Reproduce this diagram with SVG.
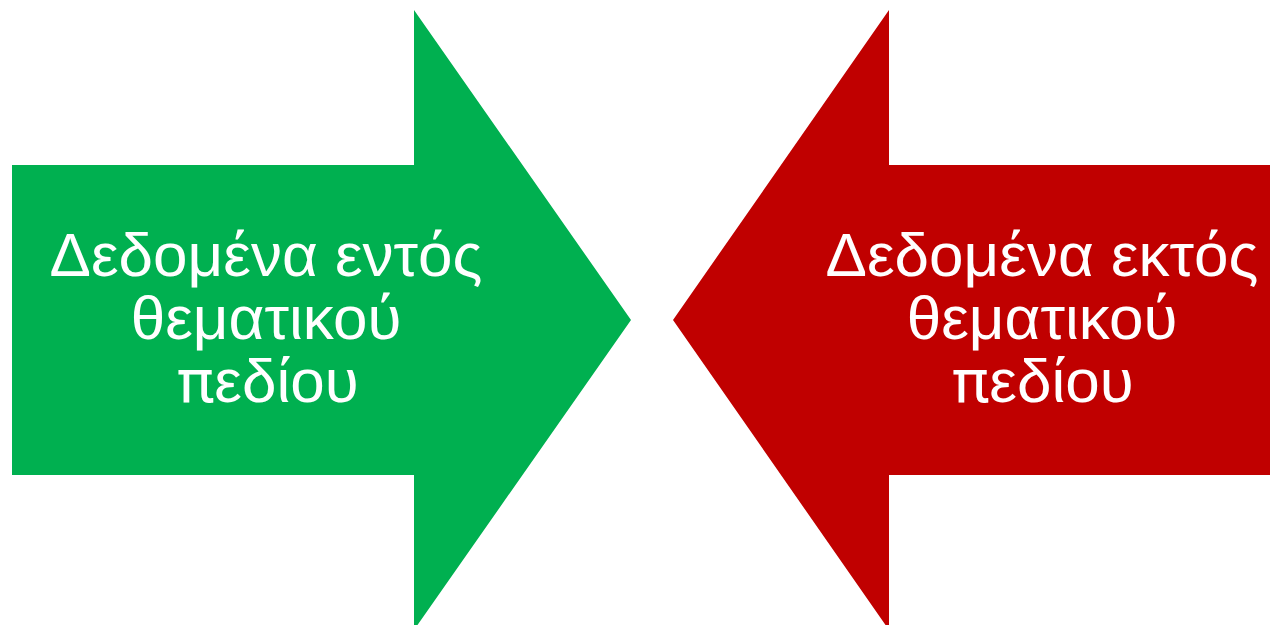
<svg xmlns="http://www.w3.org/2000/svg" width="1270" height="625" viewBox="0 0 1270 625">
  <style>
    .lbl { font-family: "Liberation Sans", Arial, sans-serif; font-size: 62px; fill: #FFFFFF; text-anchor: middle; }
    .pi { font-family: Roboto, "Liberation Sans", sans-serif; }
  </style>
  <rect width="1270" height="625" fill="#FFFFFF"/>
  <g id="node-inside">
    <polygon points="12,165 414,165 414,10 631,320 414,630 414,475 12,475" fill="#00B050"/>
    <text class="lbl" x="266" y="276">Δεδομένα εντός</text>
    <text class="lbl" x="266" y="339">θεματικού</text>
    <text class="lbl" x="268" y="402"><tspan class="pi">π</tspan>εδίου</text>
  </g>
  <g id="node-outside">
    <polygon points="1275,165 889,165 889,10 673,320 889,630 889,475 1275,475" fill="#C00000"/>
    <text class="lbl" x="1042" y="276">Δεδομένα εκτός</text>
    <text class="lbl" x="1042" y="339">θεματικού</text>
    <text class="lbl" x="1043" y="402"><tspan class="pi">π</tspan>εδίου</text>
  </g>
  <g id="connectors"></g>
</svg>
